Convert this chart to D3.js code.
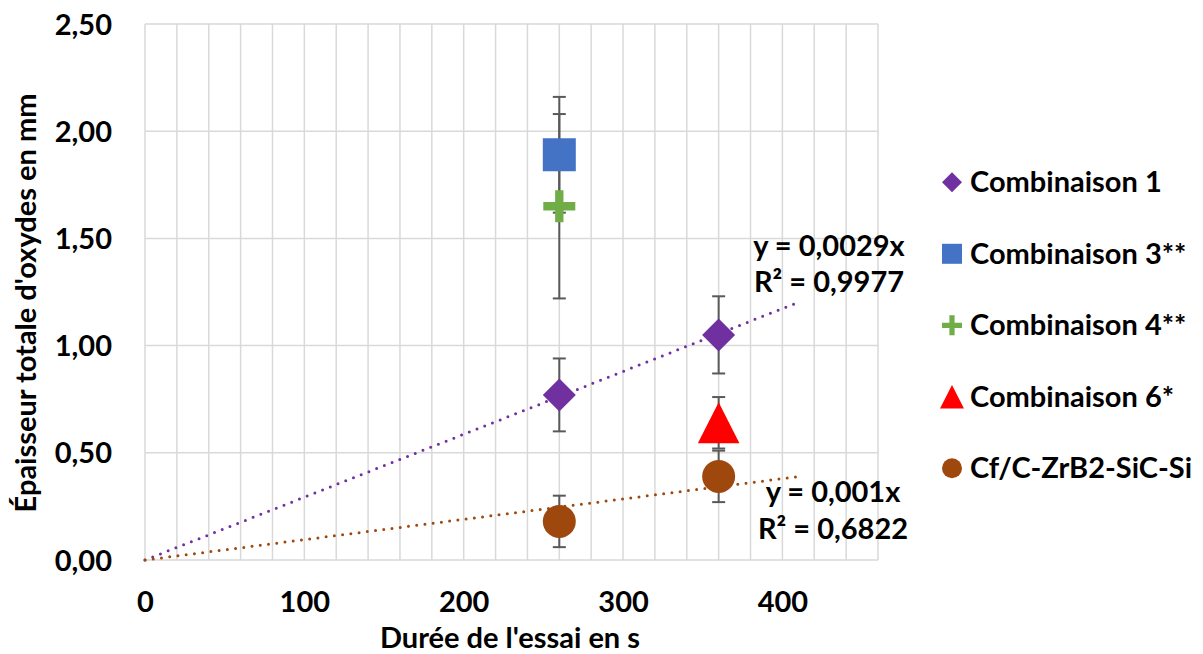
<!DOCTYPE html>
<html><head><meta charset="utf-8">
<script src="https://cdn.jsdelivr.net/npm/d3@7"></script>
<style>
html,body{margin:0;padding:0;background:#fff;}
text{font-family:Lato,"Open Sans",sans-serif;font-weight:bold;fill:#000;}
</style></head>
<body><svg id="c" width="1203" height="654"></svg>
<script>
// ---- data ----
const categories = ["Combinaison 1","Combinaison 3**","Combinaison 4**","Combinaison 6*","Cf/C-ZrB2-SiC-Si"];
const comb1X = [260, 360], comb1Y = [0.77, 1.05], comb1Err = [0.17, 0.18];
const comb3X = [260], comb3Y = [1.89], comb3Err = [0.27];
const comb4X = [260], comb4Y = [1.65], comb4Err = [0.43];
const comb6X = [360], comb6Y = [0.64], comb6Err = [0.12];
const cfX = [260, 360], cfY = [0.18, 0.39], cfErr = [0.12, 0.12];
const xTicks = [0, 100, 200, 300, 400];
const yTicks = [0, 0.5, 1.0, 1.5, 2.0, 2.5];
const trendEndX = 410;
const trendLabels1 = ["y = 0,0029x", "R² = 0,9977"];
const trendLabels2 = ["y = 0,001x", "R² = 0,6822"];
const xTitle = "Durée de l'essai en s";
const yTitle = "Épaisseur totale d'oxydes en mm";

// ---- build ----
const FS = "29px";
const colors = ["#7030A0","#4472C4","#70AD47","#FF0000","#9E480E"];
const shapes = ["diamond","square","plus","triangle","circle"];
const series = [
  {xs:comb1X, ys:comb1Y, es:comb1Err},
  {xs:comb3X, ys:comb3Y, es:comb3Err},
  {xs:comb4X, ys:comb4Y, es:comb4Err},
  {xs:comb6X, ys:comb6Y, es:comb6Err},
  {xs:cfX, ys:cfY, es:cfErr}
].map((s,i)=>({name:categories[i], color:colors[i], shape:shapes[i],
  pts:s.xs.map((x,j)=>({x, y:s.ys[j], e:s.es[j]}))}));

const svg = d3.select("#c");
const x = d3.scaleLinear().domain([0,460]).range([145,878]);
const y = d3.scaleLinear().domain([0,2.5]).range([560,24]);

// gridlines
const g = svg.append("g");
g.selectAll(".vg").data(d3.range(0,461,20)).join("line")
  .attr("x1",d=>x(d)).attr("x2",d=>x(d)).attr("y1",y(0)).attr("y2",y(2.5))
  .attr("stroke","#D9D9D9").attr("stroke-width",1.5);
g.selectAll(".hg").data(yTicks).join("line")
  .attr("y1",d=>y(d)).attr("y2",d=>y(d)).attr("x1",x(0)).attr("x2",x(460))
  .attr("stroke","#D9D9D9").attr("stroke-width",1.5);

// axes labels
const xAxis = d3.axisBottom(x).tickValues(xTicks).tickFormat(d=>d).tickSize(0).tickPadding(0);
const xa = svg.append("g").attr("transform",`translate(0,${y(0)})`).call(xAxis);
xa.select(".domain").remove();
xa.selectAll("text").attr("dy",null).attr("y",52).style("font-size",FS)
  .style("font-family","Lato").style("font-weight","bold").attr("fill","#000");

const fmt = d => d.toFixed(2).replace(".",",");
const yAxis = d3.axisLeft(y).tickValues(yTicks).tickFormat(fmt).tickSize(0).tickPadding(0);
const ya = svg.append("g").attr("transform",`translate(112,0)`).call(yAxis);
ya.select(".domain").remove();
ya.selectAll("text").attr("dy","0.35em").attr("x",0).style("font-size",FS)
  .style("font-family","Lato").style("font-weight","bold").attr("fill","#000");

svg.append("text").attr("x",510).attr("y",648).attr("text-anchor","middle")
  .style("font-size",FS).text(xTitle);
svg.append("text").attr("transform","translate(36,303) rotate(-90)").attr("text-anchor","middle")
  .style("font-size",FS).text(yTitle);

// trendlines (least squares through origin)
const slope = pts => d3.sum(pts,p=>p.x*p.y)/d3.sum(pts,p=>p.x*p.x);
[series[0], series[4]].forEach(s=>{
  const m = slope(s.pts);
  svg.append("line").attr("x1",x(0)).attr("y1",y(0)).attr("x2",x(trendEndX)).attr("y2",y(m*trendEndX))
    .attr("stroke",s.color).attr("stroke-width",3).attr("stroke-linecap","round")
    .attr("stroke-dasharray","0 8.3");
});
const tl1 = svg.append("text").attr("text-anchor","middle").style("font-size",FS);
tl1.append("tspan").attr("x",829).attr("y",256).text(trendLabels1[0]);
tl1.append("tspan").attr("x",829).attr("y",292).text(trendLabels1[1]);
const tl2 = svg.append("text").attr("text-anchor","middle").style("font-size",FS);
tl2.append("tspan").attr("x",833).attr("y",502).text(trendLabels2[0]);
tl2.append("tspan").attr("x",833).attr("y",539).text(trendLabels2[1]);

// error bars
const eb = svg.append("g").attr("stroke","#595959").attr("stroke-width",2);
series.forEach(s=>s.pts.forEach(p=>{
  const cx = x(p.x);
  eb.append("line").attr("x1",cx).attr("x2",cx).attr("y1",y(p.y-p.e)).attr("y2",y(p.y+p.e));
  [p.y-p.e, p.y+p.e].forEach(v=>eb.append("line").attr("x1",cx-6.5).attr("x2",cx+6.5).attr("y1",y(v)).attr("y2",y(v)));
}));

// marker path generator
function markerPath(shape, s){
  const h = s/2;
  switch(shape){
    case "diamond": return `M0,${-h}L${h},0L0,${h}L${-h},0Z`;
    case "square": return `M${-h},${-h}H${h}V${h}H${-h}Z`;
    case "plus": { const t = s*0.13; return `M${-t},${-h}H${t}V${-t}H${h}V${t}H${t}V${h}H${-t}V${t}H${-h}V${-t}H${-t}Z`; }
    case "triangle": { const w = s*0.63, hh = s*0.62; return `M0,${-hh}L${w},${hh}L${-w},${hh}Z`; }
    case "circle": return d3.arc()({innerRadius:0,outerRadius:h,startAngle:0,endAngle:2*Math.PI});
  }
}
const msize = {diamond:33, square:33, plus:32, triangle:33, circle:33};
series.forEach(s=>{
  svg.append("g").selectAll("path").data(s.pts).join("path")
    .attr("transform",p=>`translate(${x(p.x)},${y(p.y)})`)
    .attr("d",markerPath(s.shape, msize[s.shape])).attr("fill",s.color);
});

// legend
const lg = svg.append("g");
series.forEach((s,i)=>{
  const cy = 182.3 + i*71.5;
  lg.append("path").attr("transform",`translate(952,${cy})`)
    .attr("d",markerPath(s.shape, s.shape==="triangle"?19:20)).attr("fill",s.color);
  lg.append("text").attr("x",970).attr("y",cy+10).style("font-size",FS).text(s.name);
});
</script>
</body></html>
